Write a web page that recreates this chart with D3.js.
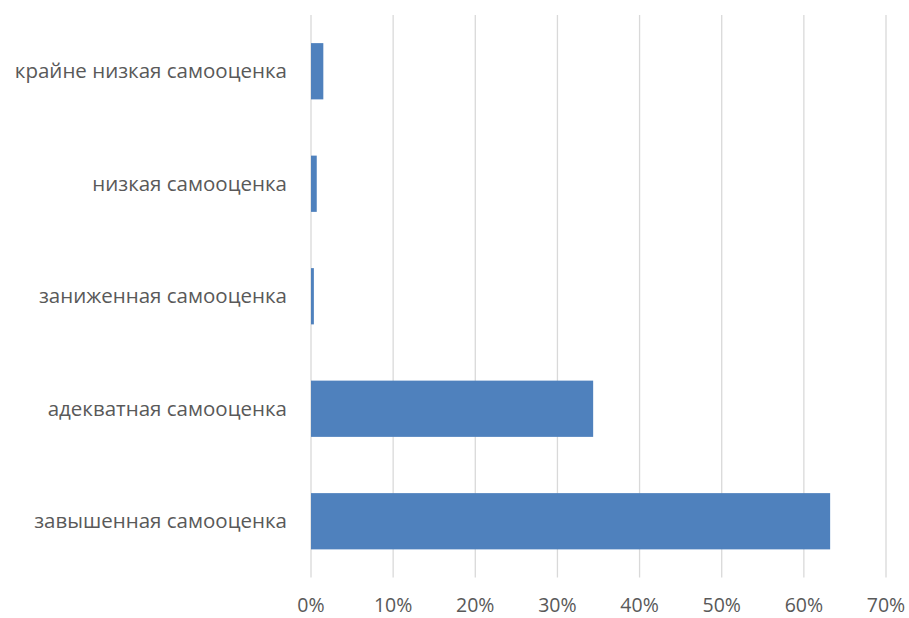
<!DOCTYPE html>
<html>
<head>
<meta charset="utf-8">
<style>
body { margin: 0; background: #fff; overflow: hidden; }
svg text { font-family: "Open Sans", sans-serif; fill: #595959; }
</style>
</head>
<body>
<div id="vis"></div>
<script src="https://d3js.org/d3.v7.min.js"></script>
<script>
// categories top to bottom
var categories = ["крайне низкая самооценка", "низкая самооценка", "заниженная самооценка",
                  "адекватная самооценка", "завышенная самооценка"];
var values = [1.5, 0.7, 0.35, 34.35, 63.2];
var ticks = [0, 10, 20, 30, 40, 50, 60, 70];

var width = 909, height = 618;
var plotLeft = 311, plotRight = 886, plotTop = 15, plotBottom = 577.5;

var x = d3.scaleLinear().domain([0, 70]).range([plotLeft, plotRight]);
var y = d3.scaleBand().domain(categories).range([plotTop, plotBottom])
    .paddingInner(0.5).paddingOuter(0.25);

var svg = d3.select("#vis").append("svg")
    .attr("width", width)
    .attr("height", height)
    .style("display", "block");

svg.selectAll("line.grid")
    .data(ticks).enter()
    .append("line")
    .attr("class", "grid")
    .attr("x1", function(d) { return x(d); })
    .attr("x2", function(d) { return x(d); })
    .attr("y1", plotTop)
    .attr("y2", plotBottom)
    .attr("stroke", "#d9d9d9")
    .attr("stroke-width", 1.3);

svg.selectAll("rect")
    .data(categories).enter()
    .append("rect")
    .attr("x", x(0))
    .attr("y", function(d) { return y(d); })
    .attr("width", function(d, i) { return x(values[i]) - x(0); })
    .attr("height", y.bandwidth())
    .attr("fill", "#4f81bd");

svg.selectAll("text.cat")
    .data(categories).enter()
    .append("text")
    .attr("class", "cat")
    .attr("x", plotLeft - 24)
    .attr("y", function(d) { return y(d) + y.bandwidth() / 2; })
    .attr("dy", "0.33em")
    .attr("text-anchor", "end")
    .attr("font-size", 20.5)
    .text(function(d) { return d; });

svg.selectAll("text.tick")
    .data(ticks).enter()
    .append("text")
    .attr("class", "tick")
    .attr("x", function(d) { return x(d); })
    .attr("y", 612)
    .attr("text-anchor", "middle")
    .attr("font-size", 19.5)
    .text(function(d) { return d + "%"; });
</script>
</body>
</html>
